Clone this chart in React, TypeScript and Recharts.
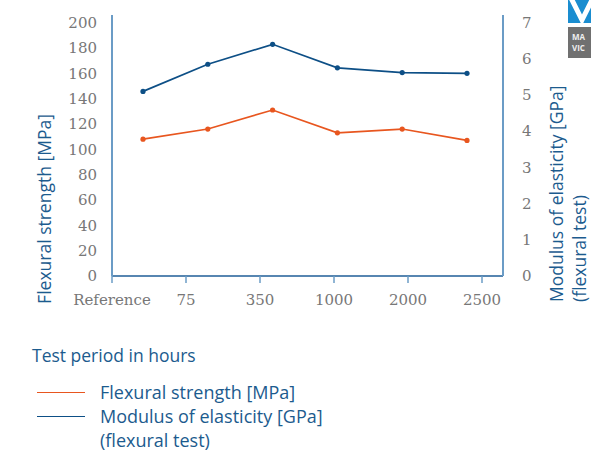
import React from 'react';
import { LineChart, Line, XAxis, YAxis, Label } from 'recharts';

const periods = ['Reference', '75', '350', '1000', '2000', '2500'];
const flexuralStrength = [108, 116, 131, 113, 116, 107]; // MPa
const modulusOfElasticity = [5.1, 5.85, 6.4, 5.75, 5.62, 5.6]; // GPa
const strengthTicks = [0, 20, 40, 60, 80, 100, 120, 140, 160, 180, 200];
const modulusTicks = [0, 1, 2, 3, 4, 5, 6, 7];

const ORANGE = '#e8561f';
const BLUE = '#0d4f86';
const TITLE_BLUE = '#1c5b8e';
const AXIS_LIGHT = '#6b9cc6';
const AXIS_DARK = '#1f5e97';
const TICK_GREY = '#777777';
const SANS = '"Open Sans", sans-serif';
const SERIF = '"DejaVu Serif", serif';

const data = periods.map((period, i) => ({
  period,
  strength: flexuralStrength[i],
  modulus: modulusOfElasticity[i],
}));

// serif tick labels, drawn by hand so the font is not dropped
function SerifTick(props: any) {
  const { x, y, payload, textAnchor, vertical } = props;
  return (
    <text
      x={x}
      y={y}
      dy={vertical ? '0.35em' : '0.9em'}
      textAnchor={textAnchor}
      style={{ fontFamily: SERIF, fontSize: 15, fill: TICK_GREY }}
    >
      {payload.value}
    </text>
  );
}

const titleStyle = { fontFamily: SANS, fontSize: 17.5, fill: TITLE_BLUE };

function LeftTitle() {
  return (
    <text
      x={44}
      y={209}
      transform="rotate(-90 44 209)"
      textAnchor="middle"
      dominantBaseline="central"
      style={titleStyle}
    >
      Flexural strength [MPa]
    </text>
  );
}

function RightTitle() {
  return (
    <g>
      <text x={556} y={302} transform="rotate(-90 556 302)" textAnchor="start" dominantBaseline="central" style={titleStyle}>
        Modulus of elasticity [GPa]
      </text>
      <text x={579} y={302} transform="rotate(-90 579 302)" textAnchor="start" dominantBaseline="central" style={titleStyle}>
        (flexural test)
      </text>
    </g>
  );
}

export default function App() {
  return (
    <div style={{ position: 'absolute', left: 0, top: 0, width: 591, height: 451, background: '#fff' }}>
      <LineChart
        width={591}
        height={451}
        data={data}
        margin={{ top: 15, right: 0, bottom: 145, left: 0 }}
      >
        <XAxis
          xAxisId="labels"
          dataKey="period"
          padding={{ left: 0, right: 21 }}
          height={30}
          tickSize={7}
          tickMargin={8}
          tick={(p: any) => <SerifTick {...p} />}
          axisLine={{ stroke: AXIS_DARK, strokeWidth: 1.4 }}
          tickLine={{ stroke: AXIS_LIGHT, strokeWidth: 1.5 }}
          interval={0}
        />
        <XAxis xAxisId="points" dataKey="period" hide padding={{ left: 31, right: 36 }} />
        <YAxis
          yAxisId="left"
          width={112}
          domain={[0, 206]}
          ticks={strengthTicks}
          interval={0}
          tickSize={0}
          tickMargin={15}
          tickLine={false}
          tick={(p: any) => <SerifTick {...p} vertical />}
          axisLine={{ stroke: AXIS_LIGHT, strokeWidth: 2 }}
        >
          <Label content={() => <LeftTitle />} />
        </YAxis>
        <YAxis
          yAxisId="right"
          orientation="right"
          width={88}
          domain={[0, 7.21]}
          ticks={modulusTicks}
          interval={0}
          tickSize={0}
          tickMargin={19}
          tickLine={false}
          tick={(p: any) => <SerifTick {...p} vertical />}
          axisLine={{ stroke: AXIS_LIGHT, strokeWidth: 2 }}
        >
          <Label content={() => <RightTitle />} />
        </YAxis>
        <Line
          xAxisId="points"
          yAxisId="left"
          dataKey="strength"
          stroke={ORANGE}
          strokeWidth={1.7}
          dot={{ r: 2.6, fill: ORANGE, stroke: ORANGE, strokeWidth: 0 }}
          isAnimationActive={false}
        />
        <Line
          xAxisId="points"
          yAxisId="right"
          dataKey="modulus"
          stroke={BLUE}
          strokeWidth={1.7}
          dot={{ r: 2.6, fill: BLUE, stroke: BLUE, strokeWidth: 0 }}
          isAnimationActive={false}
        />
      </LineChart>

      {/* caption + legend */}
      <div style={{ position: 'absolute', left: 32, top: 342, fontFamily: SANS, fontSize: 17.5, color: TITLE_BLUE, lineHeight: '26px' }}>
        Test period in hours
      </div>
      <div style={{ position: 'absolute', left: 37, top: 380, fontFamily: SANS, fontSize: 18, color: TITLE_BLUE, lineHeight: '24px' }}>
        {[
          { name: 'Flexural strength [MPa]', color: ORANGE },
          { name: 'Modulus of elasticity [GPa]', color: BLUE },
        ].map((item) => (
          <div key={item.name} style={{ display: 'flex', alignItems: 'center' }}>
            <span style={{ width: 48, height: 0, borderTop: `1.5px solid ${item.color}`, marginRight: 15 }} />
            <span>{item.name}</span>
          </div>
        ))}
        <div style={{ paddingLeft: 63 }}>(flexural test)</div>
      </div>

      {/* cropped logo in the corner */}
      <svg style={{ position: 'absolute', left: 0, top: 0 }} width={591} height={60}>
        <rect x={568} y={0} width={23} height={23} fill="#1a8dd0" />
        <path d="M571 -2 L582 20 L593 -2" stroke="#fff" strokeWidth={5} fill="none" />
        <rect x={568} y={27} width={23} height={31} fill="#707070" />
        <text x={572} y={40} style={{ fontFamily: SANS, fontSize: 8, fontWeight: 700, fill: '#eee' }}>MA</text>
        <text x={572} y={51} style={{ fontFamily: SANS, fontSize: 8, fontWeight: 700, fill: '#eee' }}>VIC</text>
      </svg>
    </div>
  );
}
